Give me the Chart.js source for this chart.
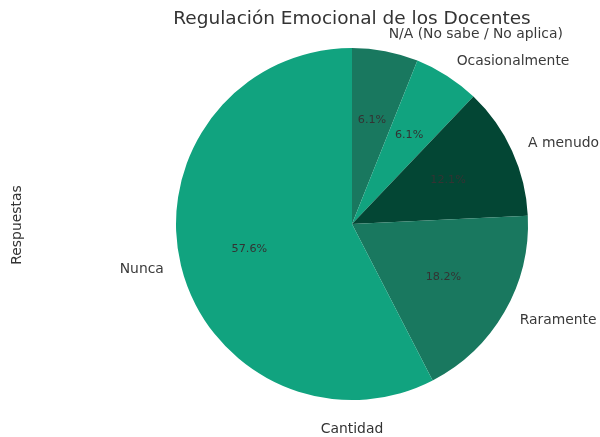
<!DOCTYPE html>
<html>
<head>
<meta charset="utf-8">
<script src="https://cdn.jsdelivr.net/npm/chart.js@4"></script>
<style>
  html, body { margin: 0; padding: 0; background: #fff; }
  #wrap { width: 600px; height: 437px; position: relative; }
</style>
</head>
<body>
<div id="wrap"><canvas id="myChart"></canvas></div>
<script>
var categories = ["N/A (No sabe / No aplica)", "Ocasionalmente", "A menudo", "Raramente", "Nunca"];
var counts = [2, 2, 4, 6, 19];
var colors = ["#19785f", "#11a37f", "#034634", "#19785f", "#11a37f"];

var fontFamily = "'DejaVu Sans', sans-serif";

var pieLabels = {
    id: 'pieLabels',
    afterDatasetsDraw: function(chart) {
        var c = chart.ctx;
        var meta = chart.getDatasetMeta(0);
        var total = counts.reduce(function(a, b) { return a + b; }, 0);
        c.save();
        meta.data.forEach(function(arc, i) {
            var p = arc.getProps(['x', 'y', 'startAngle', 'endAngle', 'outerRadius'], true);
            var mid = (p.startAngle + p.endAngle) / 2;
            var cos = Math.cos(mid), sin = Math.sin(mid);
            // percentage inside
            c.font = "11.2px " + fontFamily;
            c.fillStyle = "#333333";
            c.textAlign = "center";
            c.textBaseline = "middle";
            var pct = (counts[i] / total * 100).toFixed(1) + "%";
            c.fillText(pct, p.x + cos * p.outerRadius * 0.6, p.y + sin * p.outerRadius * 0.6);
            // category outside
            c.font = "13.9px " + fontFamily;
            c.fillStyle = "#3a3a3a";
            c.textAlign = cos >= 0 ? "left" : "right";
            c.fillText(categories[i], p.x + cos * p.outerRadius * 1.1, p.y + sin * p.outerRadius * 1.1);
        });
        // title and axis labels
        c.fillStyle = "#333333";
        c.textAlign = "center";
        c.textBaseline = "middle";
        c.font = "18.5px " + fontFamily;
        c.fillText("Regulación Emocional de los Docentes", 352, 19);
        c.font = "13.9px " + fontFamily;
        c.fillText("Cantidad", 352, 429);
        c.translate(17, 225);
        c.rotate(-Math.PI / 2);
        c.fillText("Respuestas", 0, 0);
        c.restore();
    }
};

var ctx = document.getElementById("myChart");
var myChart = new Chart(ctx, {
    type: 'pie',
    data: {
        labels: categories,
        datasets: [{
            data: counts,
            backgroundColor: colors,
            borderWidth: 0
        }]
    },
    options: {
        responsive: true,
        maintainAspectRatio: false,
        animation: false,
        layout: {
            padding: { left: 176, right: 72, top: 48, bottom: 37 }
        },
        plugins: {
            legend: { display: false },
            tooltip: { enabled: false }
        }
    },
    plugins: [pieLabels]
});
</script>
</body>
</html>
